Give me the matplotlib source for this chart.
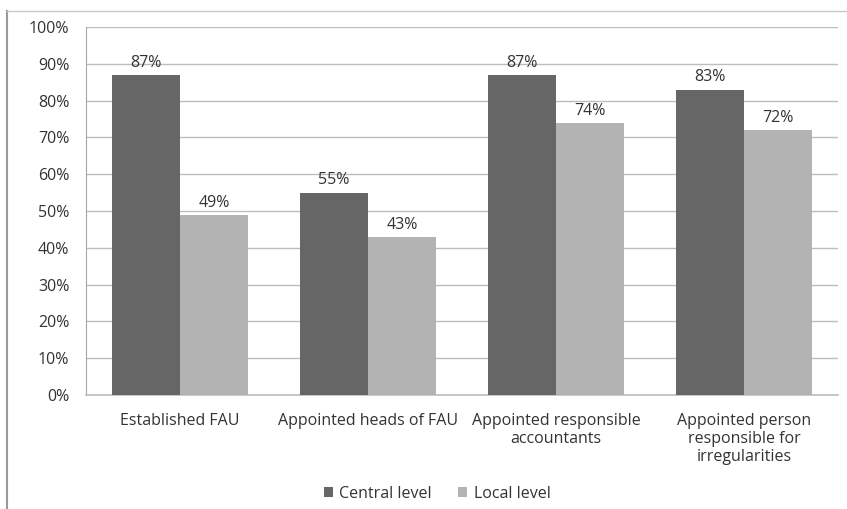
import matplotlib
matplotlib.use("Agg")
import matplotlib.pyplot as plt
from matplotlib.lines import Line2D
import numpy as np

categories = [
    "Established FAU",
    "Appointed heads of FAU",
    "Appointed responsible\naccountants",
    "Appointed person\nresponsible for\nirregularities",
]
central_level = [87, 55, 87, 83]
local_level = [49, 43, 74, 72]
series_names = ["Central level", "Local level"]
y_ticks = [0, 10, 20, 30, 40, 50, 60, 70, 80, 90, 100]

plt.rcParams["font.family"] = ["Open Sans", "DejaVu Sans"]
text_color = "#333333"
fs = 11.5

W, H = 847, 509
fig = plt.figure(figsize=(W / 100, H / 100), dpi=100)
ax = fig.add_axes([86 / W, 1 - 395 / H, 752 / W, 368 / H])

x = np.arange(len(categories))
bw = 0.362
b1 = ax.bar(x - bw / 2, central_level, bw, color="#666666", label=series_names[0], zorder=3)
b2 = ax.bar(x + bw / 2, local_level, bw, color="#b3b3b3", label=series_names[1], zorder=3)

for bars, vals in ((b1, central_level), (b2, local_level)):
    for r, v in zip(bars, vals):
        ax.annotate(f"{v}%", (r.get_x() + r.get_width() / 2, v),
                    xytext=(0, 3), textcoords="offset points",
                    ha="center", va="bottom", fontsize=fs, color=text_color, zorder=4)

ax.set_xlim(-0.5, len(categories) - 0.5)
ax.set_ylim(0, 100)
ax.set_yticks(y_ticks)
ax.set_yticklabels([f"{t}%" for t in y_ticks])
ax.set_xticks(x)
ax.set_xticklabels(categories, linespacing=1.15)
ax.tick_params(axis="y", length=0, pad=12, labelsize=fs, labelcolor=text_color)
ax.tick_params(axis="x", length=0, pad=13, labelsize=fs, labelcolor=text_color)
ax.yaxis.grid(True, color="#bdbdbd", linewidth=1, zorder=0)
ax.set_axisbelow(True)
for s in ("top", "right"):
    ax.spines[s].set_visible(False)
ax.spines["left"].set_color("#a6a6a6")
ax.spines["bottom"].set_color("#bdbdbd")
ax.spines["bottom"].set_linewidth(1.2)

leg = fig.legend(handles=[b1, b2], labels=series_names, loc="center",
                 bbox_to_anchor=(437 / W, 1 - 494 / H), ncol=2, frameon=False,
                 fontsize=fs, handlelength=0.6, handleheight=0.6,
                 handletextpad=0.4, columnspacing=1.6)
for t in leg.get_texts():
    t.set_color(text_color)

# outer frame around the chart
fig.add_artist(Line2D([7 / W, 7 / W], [0, 1 - 11 / H], transform=fig.transFigure,
                      color="#9a9a9a", linewidth=1.5))
fig.add_artist(Line2D([7 / W, 1], [1 - 11 / H, 1 - 11 / H], transform=fig.transFigure,
                      color="#c8c8c8", linewidth=1))

fig.savefig("out.png", dpi=100, facecolor="white")
